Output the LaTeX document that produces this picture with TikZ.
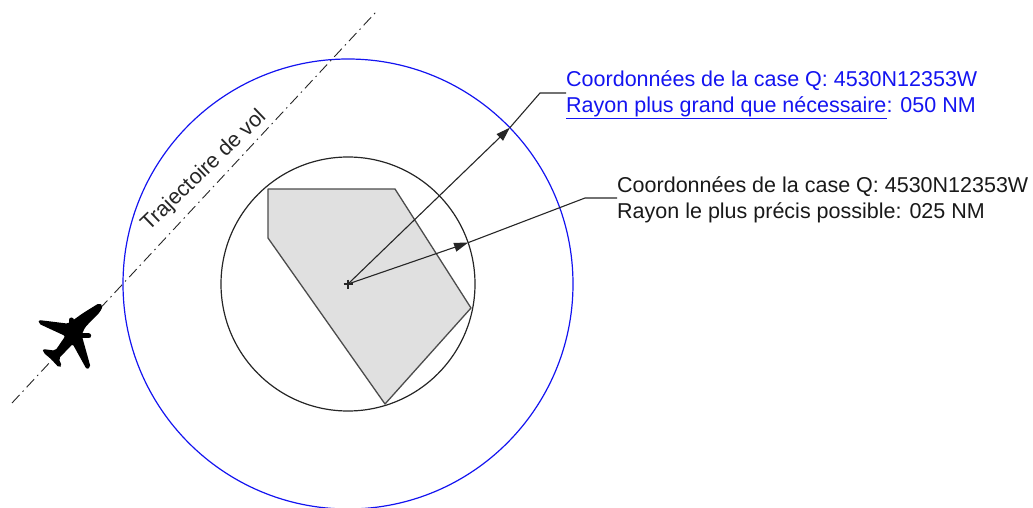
\documentclass[tikz,border=0pt]{standalone}
\usepackage{fontspec}
\setmainfont{Liberation Sans}
\usetikzlibrary{arrows.meta}
\definecolor{cblue}{RGB}{20,20,240}
\definecolor{cline}{gray}{0.15}
\definecolor{czone}{gray}{0.88}
\definecolor{cedge}{gray}{0.30}

\begin{document}
\begin{tikzpicture}[
    x=1pt, y=-1pt,
    every node/.style={font=\fontsize{21.5}{26}\selectfont},
    zone/.style={draw, circle, inner sep=0pt, outer sep=0pt, line width=1.2pt},
    leader/.style={draw=cline, line width=1.1pt},
    tipped/.style={leader, -{Triangle[length=14pt,width=9pt]}},
    caption/.style={align=left, inner sep=0pt, anchor=west}
]
\useasboundingbox (0,0) rectangle (1033,508);

%% Area
\filldraw[fill=czone, draw=cedge, line width=1.3pt, line join=round]
    (268,189) -- (395,189) -- (471,308) -- (385,404) -- (268,238) -- cycle;

%% Circles
\coordinate (centre) at (348,284);
\node[zone, draw=black!85, minimum size=254pt] (inner) at (centre) {};
\node[zone, draw=cblue, minimum size=450pt] (outer) at (centre) {};

%% Flight path
\coordinate (pathstart) at (12,403);
\coordinate (pathend) at (376,12);
\draw[cline, line width=0.9pt, dash pattern=on 11pt off 4.5pt on 1.5pt off 4.5pt] (pathstart) -- (pathend);
\node[rotate=44, text=black!85] (pathlabel) at (204,171) {Trajectoire de vol};

%% Aircraft
\begin{scope}[shift={(0,280)}, scale=0.3333]
\fill[black, rounded corners=2pt] (309,78) -- (300,96) -- (255,142) -- (245,165) -- (272,262)
    -- (260,268) -- (218,192) -- (176,236) -- (186,258) -- (177,263) -- (152,236) -- (130,218)
    -- (128,207) -- (166,212) -- (196,168) -- (116,131) -- (116,120) -- (205,131) -- (248,100)
    -- (298,69) -- cycle;
\draw[black, line width=5pt, line cap=round] (214,120) -- (214,140) (266,168) -- (240,168);
\end{scope}

%% Labels
\node[caption, text=cblue] (widelabel) at (566,94.5) {Coordonnées de la case Q: 4530N12353W\\\textcolor{cblue}{\underline{Rayon plus grand que nécessaire}}: 050 NM};
\node[caption, text=black!90] (narrowlabel) at (617,199.5) {Coordonnées de la case Q: 4530N12353W\\Rayon le plus précis possible: 025 NM};

%% Arrows
\coordinate (widebend) at (540,93);
\coordinate (narrowbend) at (585,198);
\draw[leader] (centre) ++(-4.5,0) -- ++(9,0) (centre) ++(0,-4.5) -- ++(0,9);
\draw[tipped] (centre) -- (outer.44.6);
\draw[leader] (outer.44.6) -- (widebend) -- (widelabel.west |- widebend);
\draw[tipped] (centre) -- (inner.19.7);
\draw[leader] (inner.19.7) -- (narrowbend) -- (narrowlabel.west |- narrowbend);
\end{tikzpicture}
\end{document}
